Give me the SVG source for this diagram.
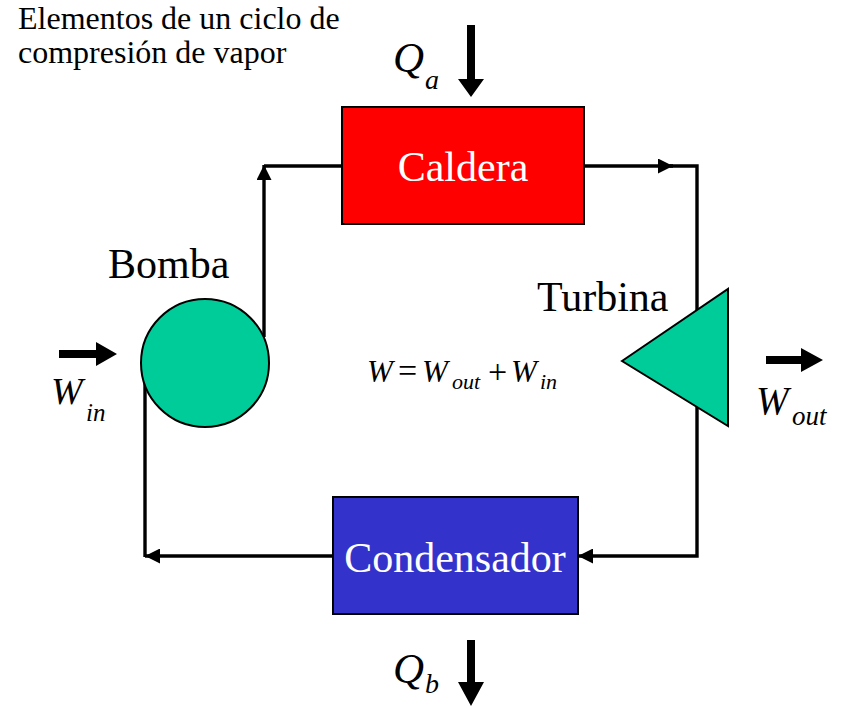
<svg xmlns="http://www.w3.org/2000/svg" width="842" height="708" viewBox="0 0 842 708">
  <defs>
    <marker id="ah" viewBox="0 0 15 15" refX="15" refY="7.5" markerWidth="15" markerHeight="15" markerUnits="userSpaceOnUse" orient="auto">
      <path d="M0,0 L15,7.5 L0,15 Z" fill="#000"/>
    </marker>
  </defs>
  <style>
    .t{font-family:"Liberation Serif","Times New Roman",serif;fill:#000}
    .i{font-style:italic}
    .w{fill:#fff}
    .ln{fill:none;stroke:#000;stroke-width:3.4}
    .box{stroke:#000;stroke-width:2}
    .grn{fill:#00CC99;stroke:#000;stroke-width:2}
  </style>
  <rect width="842" height="708" fill="#fff"/>

  <g id="connectors">
    <path class="ln" d="M264,337 V165" marker-end="url(#ah)"/>
    <path class="ln" d="M264,166 H342"/>
    <path class="ln" d="M584,166 H673" marker-end="url(#ah)"/>
    <path class="ln" d="M670,166 H697 V556 H578" marker-end="url(#ah)"/>
    <path class="ln" d="M333,556 H145" marker-end="url(#ah)"/>
    <path class="ln" d="M145,557 V380"/>
    <path d="M467,25 H475 V79 H484 L471,97 L458,79 H467 Z" fill="#000"/>
    <path d="M467,640 H475 V682 H484 L471,706 L458,682 H467 Z" fill="#000"/>
    <path d="M59,350 H96 V342 L117,354 L96,366 V358 H59 Z" fill="#000"/>
    <path d="M766,356 H801 V348 L823,360 L801,372 V364 H766 Z" fill="#000"/>
  </g>

  <g id="caldera">
    <rect class="box" x="342" y="107" width="242" height="117" fill="#FF0000"/>
    <text class="t w" x="463" y="181" font-size="42" text-anchor="middle">Caldera</text>
  </g>

  <g id="condensador">
    <rect class="box" x="333" y="497" width="245" height="117" fill="#3333CC"/>
    <text class="t w" x="455" y="572" font-size="42" text-anchor="middle">Condensador</text>
  </g>

  <g id="bomba">
    <circle class="grn" cx="205" cy="363" r="64"/>
    <text class="t" x="108" y="278" font-size="42">Bomba</text>
  </g>

  <g id="turbina">
    <polygon class="grn" points="622,361 728,289 728,426"/>
    <text class="t" x="537" y="311" font-size="42">Turbina</text>
  </g>

  <g id="title">
    <text class="t" x="18" y="29" font-size="32">Elementos de un ciclo de</text>
    <text class="t" x="18" y="63" font-size="32">compresión de vapor</text>
  </g>

  <g id="labels">
    <text class="t i" x="393" y="72" font-size="43">Q</text>
    <text class="t i" x="425" y="89" font-size="28">a</text>
    <text class="t i" x="393" y="683" font-size="43">Q</text>
    <text class="t i" x="425" y="693" font-size="28">b</text>
    <text class="t i" x="51" y="404" font-size="38">W</text>
    <text class="t i" x="86" y="421" font-size="25">in</text>
    <text class="t i" x="756" y="414" font-size="39">W</text>
    <text class="t i" x="792" y="425" font-size="27">out</text>
  </g>

  <g id="equation">
    <text class="t i" x="367" y="382" font-size="31">W</text>
    <text class="t" x="398" y="382" font-size="34">=</text>
    <text class="t i" x="422" y="382" font-size="31">W</text>
    <text class="t i" x="452" y="389" font-size="22">out</text>
    <text class="t" x="488" y="383" font-size="34">+</text>
    <text class="t i" x="511" y="382" font-size="31">W</text>
    <text class="t i" x="540" y="389" font-size="22">in</text>
  </g>
</svg>
